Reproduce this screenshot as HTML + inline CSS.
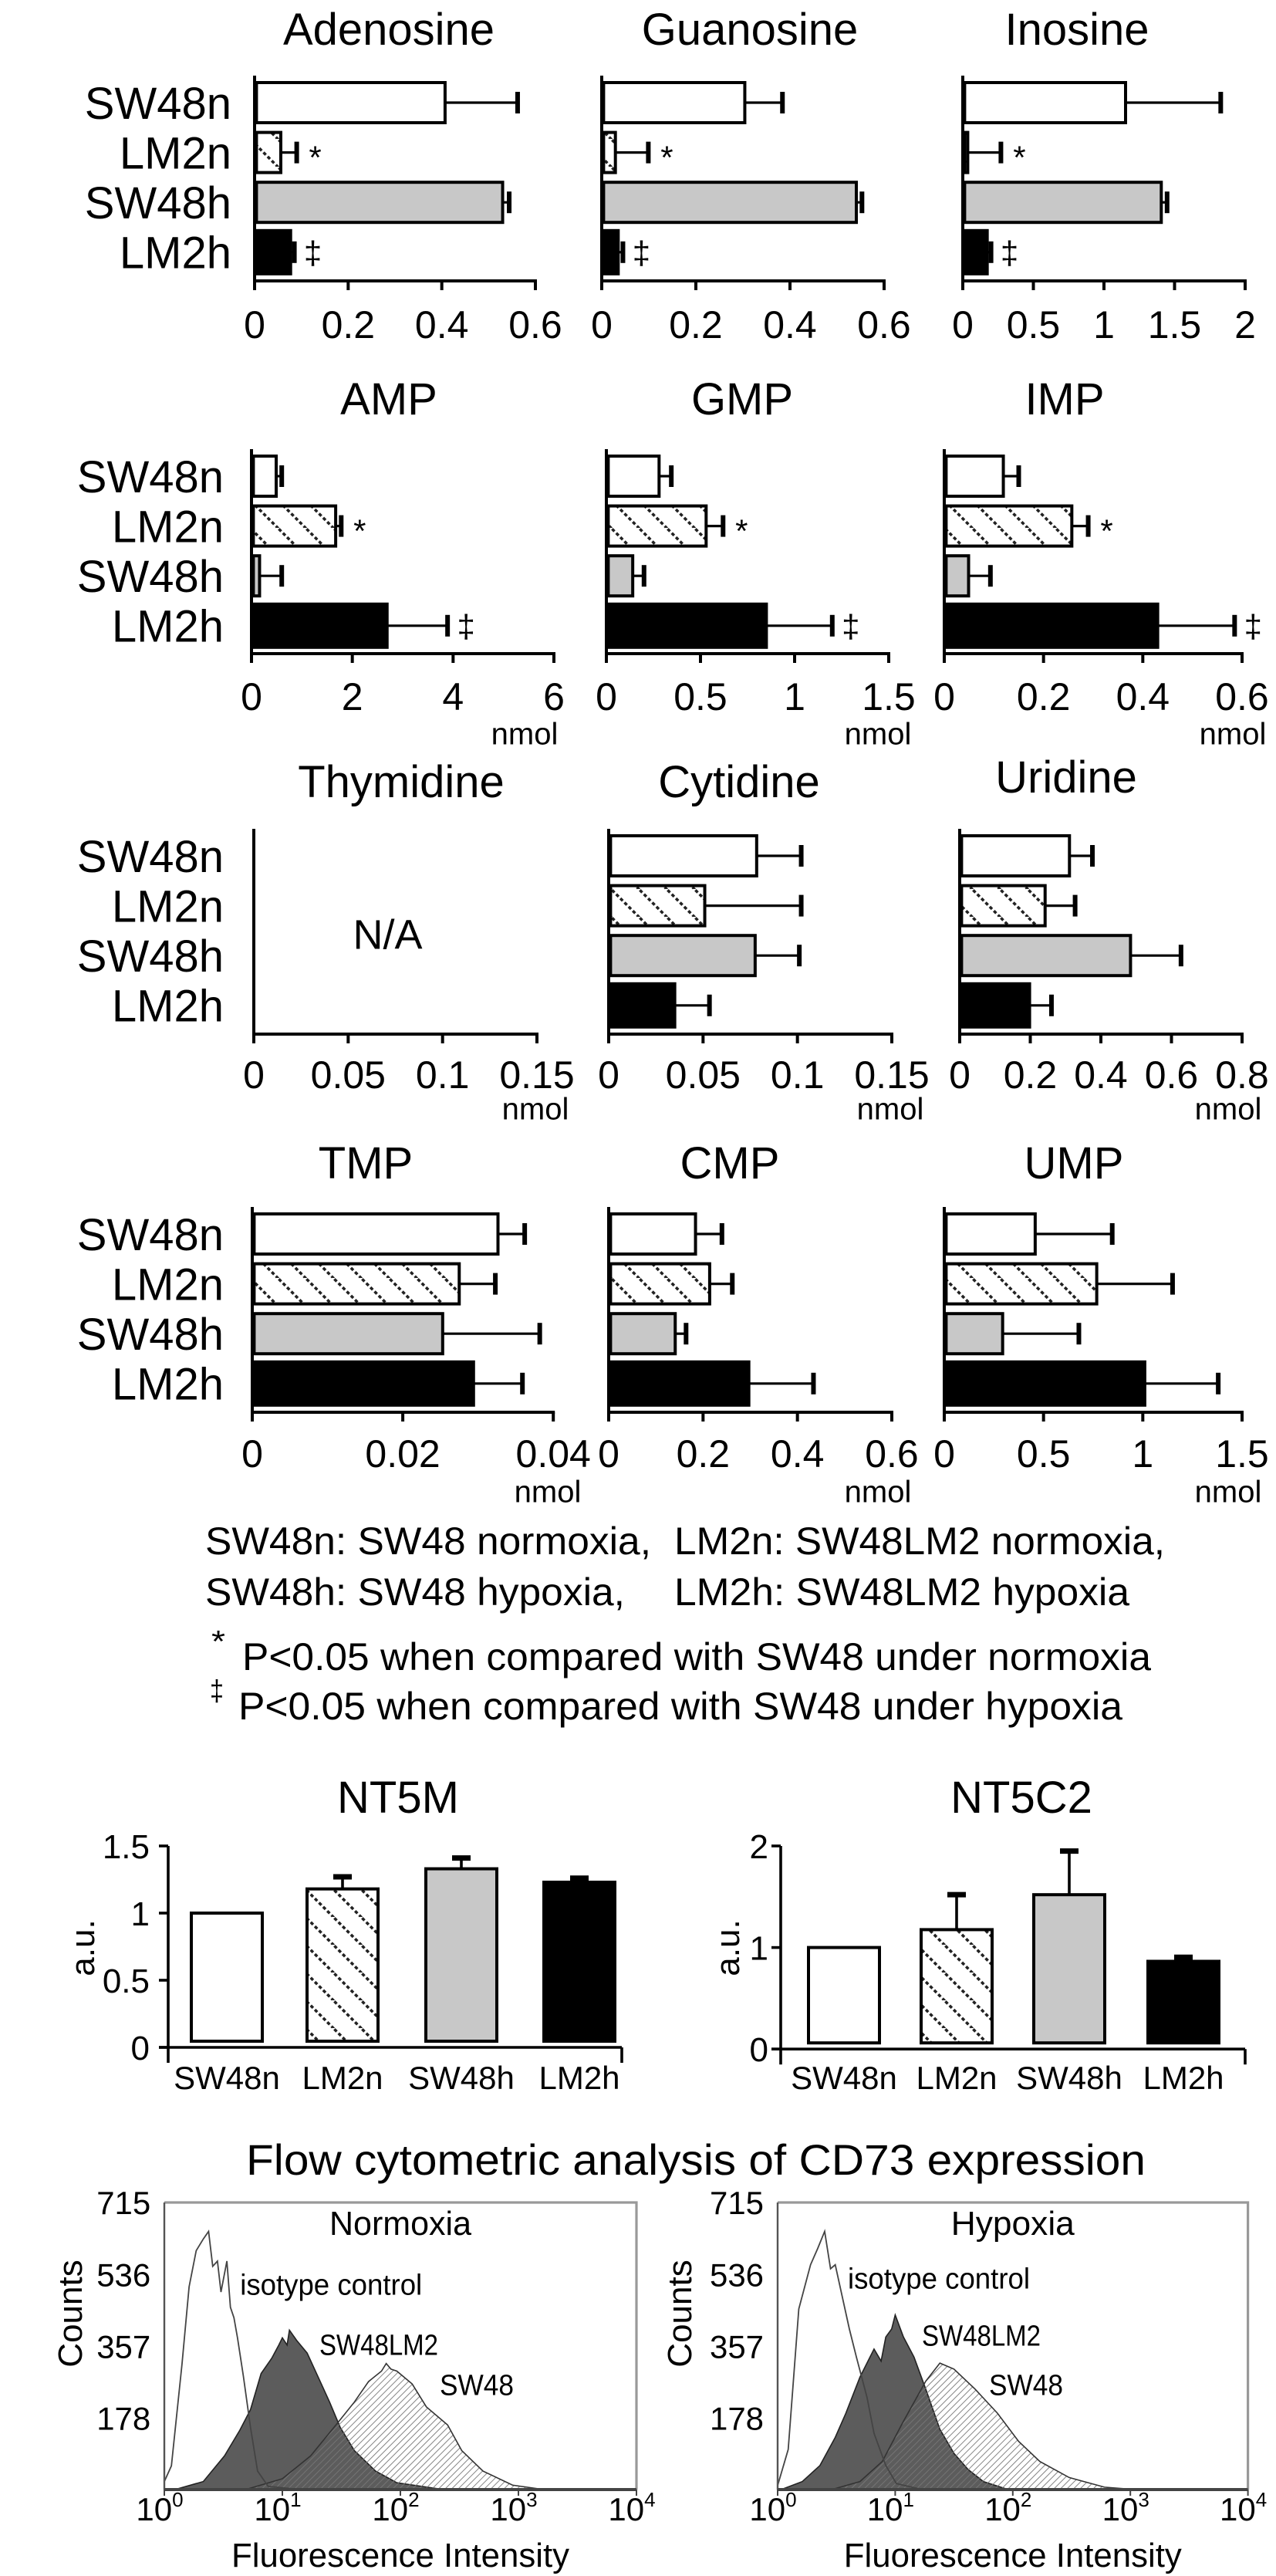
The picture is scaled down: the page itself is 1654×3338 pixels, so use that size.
<!DOCTYPE html>
<html><head><meta charset="utf-8"><style>
html,body{margin:0;padding:0;background:#fff;}
svg{display:block;font-family:"Liberation Sans",Arial,sans-serif;}
</style></head><body>
<svg id="fig" width="1654" height="3338" viewBox="0 0 827 1669" xmlns="http://www.w3.org/2000/svg">
<defs>
<pattern id="hatch" patternUnits="userSpaceOnUse" width="18" height="18">
<rect width="18" height="18" fill="#fff"/>
<line x1="-2" y1="-2" x2="20" y2="20" stroke="#222" stroke-width="1.8" stroke-dasharray="2.2 1.6"/>
<line x1="-20" y1="-2" x2="2" y2="20" stroke="#222" stroke-width="1.8" stroke-dasharray="2.2 1.6"/>
<line x1="16" y1="-2" x2="38" y2="20" stroke="#222" stroke-width="1.8" stroke-dasharray="2.2 1.6"/>
</pattern>
<pattern id="fine" patternUnits="userSpaceOnUse" width="3" height="3" patternTransform="rotate(45)">
<line x1="0" y1="0" x2="0" y2="3" stroke="#777" stroke-width="0.9"/>
</pattern>
</defs>
</svg>
<script>
// ---------- bar panel data ----------
const groups = ['SW48n','LM2n','SW48h','LM2h'];
const adenosineVals=[0.407,0.056,0.53,0.077]; const adenosineErr=[0.562,0.09,0.544,0.085]; const adenosineSig=['','*','','‡'];
const guanosineVals=[0.304,0.029,0.541,0.035]; const guanosineErr=[0.384,0.099,0.553,0.045]; const guanosineSig=['','*','','‡'];
const inosineVals=[1.153,0.035,1.406,0.173]; const inosineErr=[1.827,0.27,1.447,0.2]; const inosineSig=['','*','','‡'];
const ampVals=[0.49,1.67,0.16,2.69]; const ampErr=[0.6,1.78,0.6,3.89]; const ampSig=['','*','','‡'];
const gmpVals=[0.28,0.53,0.14,0.85]; const gmpErr=[0.345,0.62,0.2,1.2]; const gmpSig=['','*','','‡'];
const impVals=[0.119,0.257,0.049,0.43]; const impErr=[0.15,0.29,0.093,0.585]; const impSig=['','*','','‡'];
const thymidineVals=[]; const thymidineErr=[];
const cytidineVals=[0.0784,0.0509,0.0776,0.035]; const cytidineErr=[0.102,0.102,0.101,0.0534];
const uridineVals=[0.311,0.242,0.484,0.198]; const uridineErr=[0.376,0.327,0.627,0.26];
const tmpVals=[0.03265,0.0275,0.0253,0.0294]; const tmpErr=[0.0362,0.0323,0.0382,0.0359];
const cmpVals=[0.184,0.214,0.141,0.297]; const cmpErr=[0.24,0.262,0.164,0.434];
const umpVals=[0.458,0.768,0.294,1.01]; const umpErr=[0.846,1.15,0.678,1.38];
const ticks06=['0','0.2','0.4','0.6']; const ticks2=['0','0.5','1','1.5','2']; const ticks6=['0','2','4','6'];
const ticks15=['0','0.5','1','1.5']; const ticks015=['0','0.05','0.1','0.15']; const ticks08=['0','0.2','0.4','0.6','0.8'];
const ticks004=['0','0.02','0.04'];
// ---------- NT5 data ----------
const nt5mVals=[1.0,1.18,1.33,1.23]; const nt5mErr=[1.0,1.27,1.41,1.26]; const nt5mTicks=['0','0.5','1','1.5'];
const nt5c2Vals=[1.0,1.176,1.52,0.864]; const nt5c2Err=[1.0,1.52,1.95,0.904]; const nt5c2Ticks=['0','1','2'];
// ---------- flow histogram data (log10 intensity, counts) ----------
const countTicks=[178,357,536,715];
const normIsoLog=[0,0.06,0.15,0.21,0.27,0.33,0.375,0.41,0.45,0.48,0.53,0.56,0.59,0.62,0.67,0.73,0.79,0.88,1.12,4];
const normIsoCnt=[20,59,313,505,595,624,643,556,569,492,569,454,428,378,282,155,46,8,1,0];
const normLm2Log=[0.09,0.33,0.51,0.64,0.73,0.82,0.91,0.97,1.0,1.04,1.06,1.12,1.21,1.31,1.4,1.49,1.61,1.79,1.97,2.34];
const normLm2Cnt=[0,20,84,148,199,289,327,360,378,360,397,372,340,276,218,155,97,46,17,1];
const normSwLog=[0.7,1.0,1.24,1.49,1.61,1.73,1.84,1.88,1.92,1.97,2.1,2.22,2.4,2.52,2.7,2.95,3.19];
const normSwCnt=[1,27,84,174,218,269,295,314,300,295,263,206,161,97,46,11,1];
const hypIsoLog=[0,0.09,0.18,0.28,0.34,0.4,0.45,0.49,0.55,0.61,0.67,0.76,0.82,0.92,1.01,1.2,4];
const hypIsoCnt=[10,100,450,560,600,643,550,560,480,400,330,230,140,60,15,2,0];
const hypLm2Log=[0.03,0.21,0.36,0.49,0.58,0.7,0.82,0.88,0.92,0.97,1.0,1.07,1.16,1.26,1.38,1.5,1.62,1.75,1.93];
const hypLm2Cnt=[0,20,60,130,190,280,350,320,380,400,435,380,330,250,150,90,50,20,3];
const hypSwLog=[0.46,0.7,0.89,1.07,1.26,1.38,1.5,1.68,1.87,2.05,2.23,2.48,2.78,3.0];
const hypSwCnt=[0,20,70,170,270,315,300,250,190,120,70,30,6,1];

const svg=document.getElementById('fig');
const NS='http://www.w3.org/2000/svg';
function el(tag,attrs,parent){const e=document.createElementNS(NS,tag);for(const k in attrs)e.setAttribute(k,attrs[k]);(parent||svg).appendChild(e);return e;}
function txt(s,x,cy,size,anchor,parent,extra){const t=el('text',Object.assign({x:x,y:cy+size*0.36,'font-size':size,'text-anchor':anchor||'middle',fill:'#000'},extra||{}),parent);t.textContent=s;return t;}

const fills=['#fff','url(#hatch)','#c8c8c8','#000'];

const panels=[
 {name:'adenosine',title:'Adenosine',vals:adenosineVals,err:adenosineErr,sig:adenosineSig,ticks:ticks06,max:0.6,x0:165,x1:347,top:49,bot:182,tx:252,ty:18.5,lr:150,tly:210},
 {name:'guanosine',title:'Guanosine',vals:guanosineVals,err:guanosineErr,sig:guanosineSig,ticks:ticks06,max:0.6,x0:390,x1:573,top:49,bot:182,tx:486,ty:18.5,tly:210},
 {name:'inosine',title:'Inosine',vals:inosineVals,err:inosineErr,sig:inosineSig,ticks:ticks2,max:2,x0:624,x1:807,top:49,bot:182,tx:698,ty:18.5,tly:210},
 {name:'amp',title:'AMP',vals:ampVals,err:ampErr,sig:ampSig,ticks:ticks6,max:6,x0:163,x1:359,top:291,bot:423.5,tx:252,ty:258,lr:145,tly:451,nx:340,ny:475},
 {name:'gmp',title:'GMP',vals:gmpVals,err:gmpErr,sig:gmpSig,ticks:ticks15,max:1.5,x0:393,x1:576,top:291,bot:423.5,tx:481,ty:258,tly:451,nx:569,ny:475},
 {name:'imp',title:'IMP',vals:impVals,err:impErr,sig:impSig,ticks:ticks06,max:0.6,x0:612,x1:805,top:291,bot:423.5,tx:690,ty:258,tly:451,nx:799,ny:475},
 {name:'thymidine',title:'Thymidine',vals:thymidineVals,err:thymidineErr,ticks:ticks015,max:0.15,x0:164.5,x1:348,top:537,bot:670,tx:260,ty:506,lr:145,tly:696,nx:347,ny:718,na:true},
 {name:'cytidine',title:'Cytidine',vals:cytidineVals,err:cytidineErr,ticks:ticks015,max:0.15,x0:394.5,x1:578,top:537,bot:670,tx:479,ty:506,tly:696,nx:577,ny:718},
 {name:'uridine',title:'Uridine',vals:uridineVals,err:uridineErr,ticks:ticks08,max:0.8,x0:622,x1:805,top:537,bot:670,tx:691,ty:503,tly:696,nx:796,ny:718},
 {name:'tmp',title:'TMP',vals:tmpVals,err:tmpErr,ticks:ticks004,max:0.04,x0:163.5,x1:358.6,top:782,bot:915,tx:237,ty:753,lr:145,tly:941.5,nx:355,ny:966},
 {name:'cmp',title:'CMP',vals:cmpVals,err:cmpErr,ticks:ticks06,max:0.6,x0:394.5,x1:578,top:782,bot:915,tx:473,ty:753,tly:941.5,nx:569,ny:966},
 {name:'ump',title:'UMP',vals:umpVals,err:umpErr,ticks:ticks15,max:1.5,x0:612,x1:805,top:782,bot:915,tx:696,ty:753,tly:941.5,nx:796,ny:966}
];

panels.forEach(p=>{
 const g=el('g',{});
 
 
 const xs=v=>p.x0+v/p.max*(p.x1-p.x0);
 const t=txt(p.title,p.tx,p.ty,29,'middle',g);
 
 
 if(p.lr){groups.forEach((gname,i)=>{const l=txt(gname,p.lr,p.top+17.5+i*32.3,29,'end',g);
   
   });}
 // bars
 p.vals.forEach((v,i)=>{
  const cy=p.top+17.5+i*32.3, h=(i===3?28:26);
  const r=el('rect',{x:p.x0+1.2,y:cy-h/2,width:Math.max(xs(v)-p.x0-1.2,1.5),height:h,fill:fills[i],stroke:'#000','stroke-width':2},g);
  
  
  const e=p.err[i];
  const eb=el('line',{x1:xs(v),y1:cy,x2:xs(e),y2:cy,stroke:'#000','stroke-width':1.6},g);
  
  
  const cap=el('line',{x1:xs(e),y1:cy-7,x2:xs(e),y2:cy+7,stroke:'#000','stroke-width':3},g);
  
  
  if(p.sig&&p.sig[i]){const m=txt(p.sig[i],xs(e)+12,cy+(p.sig[i]==='*'?3:0),21,'middle',g);
   
   }
 });
 // axes
 const ya=el('line',{x1:p.x0,y1:p.top,x2:p.x0,y2:p.bot+1,stroke:'#000','stroke-width':2},g);
 
 
 const xa=el('line',{x1:p.x0-1,y1:p.bot,x2:p.x1+1,y2:p.bot,stroke:'#000','stroke-width':2},g);
 
 
 p.ticks.forEach(tk=>{const x=xs(parseFloat(tk));
  const tm=el('line',{x1:x,y1:p.bot,x2:x,y2:p.bot+6,stroke:'#000','stroke-width':2},g);
  
  
  const tl=txt(tk,x,p.tly,25,'middle',g);
  
  });
 if(p.nx){const n=txt('nmol',p.nx,p.ny,20,'middle',g);
  
  }
 if(p.na){const n=txt('N/A',(p.x0+p.x1)/2-5,605,27,'middle',g);
  
  }
});

// legend text
function ltxt(s,x,cy,size,w,name){const t=txt(s,x,cy,size,'start',svg,{textLength:w,lengthAdjust:'spacingAndGlyphs'});
 
 return t;}
ltxt('SW48n: SW48 normoxia,',133,998,25,289,'legend-sw48n');
ltxt('LM2n: SW48LM2 normoxia,',437,998,25,318,'legend-lm2n');
ltxt('SW48h: SW48 hypoxia,',133,1031,25,272,'legend-sw48h');
ltxt('LM2h: SW48LM2 hypoxia',437,1031,25,295,'legend-lm2h');
ltxt('*',137,1063,20,9,'legend-star');
ltxt('P<0.05 when compared with SW48 under normoxia',157,1073,25,589,'legend-p-normoxia');
ltxt('‡',136,1095,19,9,'legend-dagger');
ltxt('P<0.05 when compared with SW48 under hypoxia',154.5,1105,25,573,'legend-p-hypoxia');

// NT5 charts
const nt5=[
 {name:'nt5m',title:'NT5M',vals:nt5mVals,err:nt5mErr,ticks:nt5mTicks,max:1.5,ax:109,xend:403,top:1196,zero:1326.5,tx:258,lab:97,aux:53,cx:[147,222,299,375.5]},
 {name:'nt5c2',title:'NT5C2',vals:nt5c2Vals,err:nt5c2Err,ticks:nt5c2Ticks,max:2,ax:506,xend:807,top:1196,zero:1327.6,tx:662,lab:498,aux:471,cx:[547,620,693,767]}
];
nt5.forEach(c=>{
 const g=el('g',{});
 
 
 const ys=v=>c.zero-v/c.max*(c.zero-c.top);
 const t=txt(c.title,c.tx,1164,29,'middle',g);
 
 
 c.vals.forEach((v,i)=>{
  const x=c.cx[i]-23;
  const r=el('rect',{x:x,y:ys(v),width:46,height:Math.max(ys(0)-4-ys(v),1),fill:fills[i],stroke:'#000','stroke-width':2},g);
  
  
  if(c.err[i]>v+0.001){
   const eb=el('line',{x1:c.cx[i],y1:ys(v),x2:c.cx[i],y2:ys(c.err[i]),stroke:'#000','stroke-width':1.8},g);
   
   
   const cap=el('line',{x1:c.cx[i]-6,y1:ys(c.err[i]),x2:c.cx[i]+6,y2:ys(c.err[i]),stroke:'#000','stroke-width':3.5},g);
   
   
  }
  const l=txt(groups[i],c.cx[i],1346,21,'middle',g);
  
  
 });
 const ya=el('line',{x1:c.ax,y1:c.top,x2:c.ax,y2:c.zero,stroke:'#000','stroke-width':1.8},g);
 
 
 const xa=el('line',{x1:c.ax-6,y1:c.zero,x2:c.xend,y2:c.zero,stroke:'#000','stroke-width':1.8},g);
 
 
 [c.ax,c.xend].forEach(x=>{const tm=el('line',{x1:x,y1:c.zero,x2:x,y2:c.zero+10,stroke:'#000','stroke-width':1.8},g);
  
  });
 c.ticks.forEach(tk=>{const y=ys(parseFloat(tk));
  const tm=el('line',{x1:c.ax-6,y1:y,x2:c.ax,y2:y,stroke:'#000','stroke-width':1.8},g);
  
  
  const tl=txt(tk,c.lab,y,22,'end',g);
  
  });
 const au=txt('a.u.',0,0,22,'middle',g,{transform:'translate('+c.aux+',1262) rotate(-90)'});
 au.setAttribute('y',8);
 
 
});

// Flow cytometry
const ft=txt('Flow cytometric analysis of CD73 expression',451,1399,28,'middle',svg,{textLength:583,lengthAdjust:'spacingAndGlyphs'});


const hists=[
 {name:'normoxia',label:'Normoxia',left:106.5,dec:76.5,iso:[normIsoLog,normIsoCnt],lm2:[normLm2Log,normLm2Cnt],sw:[normSwLog,normSwCnt],lab:97.6,cnt:45,
  isoT:[155.6,1480],lmT:[207,1519],swT:[285,1545]},
 {name:'hypoxia',label:'Hypoxia',left:504,dec:76.2,iso:[hypIsoLog,hypIsoCnt],lm2:[hypLm2Log,hypLm2Cnt],sw:[hypSwLog,hypSwCnt],lab:495,cnt:440,
  isoT:[549.5,1476],lmT:[597.5,1513],swT:[641,1545]}
];
const hTop=1427,hBot=1613;
hists.forEach(h=>{
 const g=el('g',{});
 
 
 const xs=l=>h.left+Math.min(l,4)*h.dec;
 const ys=c=>hBot-c/715*(hBot-hTop);
 const right=xs(4);
 function path(d){let s='M'+xs(d[0][0])+','+ys(0);d[0].forEach((l,i)=>{s+=' L'+xs(l).toFixed(2)+','+ys(d[1][i]).toFixed(2);});s+=' L'+xs(d[0][d[0].length-1])+','+ys(0)+' Z';return s;}
 const fr=el('path',{d:'M'+h.left+','+hTop+' L'+right+','+hTop+' L'+right+','+hBot,fill:'none',stroke:'#999','stroke-width':1.6},g);
 
 
 const a=el('path',{d:path(h.lm2),fill:'#5c5c5c',stroke:'#222','stroke-width':0.8},g);
 
 
 const b=el('path',{d:path(h.sw),fill:'url(#fine)',stroke:'#333','stroke-width':0.8},g);
 
 
 const c=el('path',{d:path(h.iso),fill:'none',stroke:'#444','stroke-width':0.9},g);
 
 
 const ya=el('line',{x1:h.left,y1:hTop,x2:h.left,y2:hBot,stroke:'#555','stroke-width':1.2},g);
 
 
 const xa=el('line',{x1:h.left,y1:hBot,x2:right,y2:hBot,stroke:'#444','stroke-width':2},g);
 
 
 countTicks.forEach(ct=>{const tl=txt(String(ct),h.lab,ys(ct),21,'end',g,{textLength:35,lengthAdjust:'spacingAndGlyphs'});
  
  });
 for(let k=0;k<=4;k++){const x=xs(k);
  const tm=el('line',{x1:x,y1:hBot,x2:x,y2:hBot+4,stroke:'#444','stroke-width':1},g);
  
  
  const t=el('text',{x:x-3,y:1633,'font-size':21,'text-anchor':'middle'},g);
  
  
  t.textContent='10';
  const sp=el('tspan',{dy:-9,'font-size':13},t); sp.textContent=String(k);}
 const xt=txt('Fluorescence Intensity',xs(2),1655,22,'middle',g,{textLength:219,lengthAdjust:'spacingAndGlyphs'});
 
 
 const yt=txt('Counts',0,0,22,'middle',g,{transform:'translate('+h.cnt+',1499) rotate(-90)'});
 yt.setAttribute('y',8);
 
 
 const cond=txt(h.label,xs(2),1440,22,'middle',g,{textLength:h.label==='Normoxia'?92:80,lengthAdjust:'spacingAndGlyphs'});
 
 
 const l1=txt('isotype control',h.isoT[0],h.isoT[1],19,'start',g,{textLength:118,lengthAdjust:'spacingAndGlyphs'});
 
 
 const l2=txt('SW48LM2',h.lmT[0],h.lmT[1],19,'start',g,{textLength:77,lengthAdjust:'spacingAndGlyphs'});
 
 
 const l3=txt('SW48',h.swT[0],h.swT[1],19,'start',g,{textLength:48,lengthAdjust:'spacingAndGlyphs'});
 
 
});
</script>
</body></html>
